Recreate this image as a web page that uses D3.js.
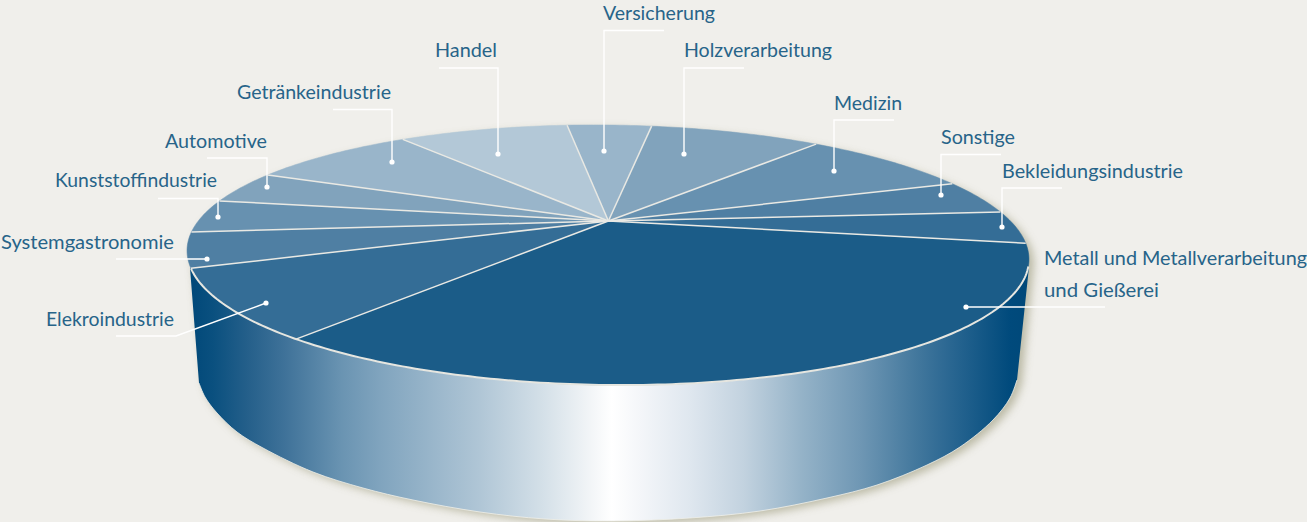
<!DOCTYPE html>
<html lang="de"><head><meta charset="utf-8">
<script src="https://cdn.jsdelivr.net/npm/d3@7"></script>
<style>html,body{margin:0;padding:0;background:#f0efeb}svg{display:block}
text{font-family:Lato,"Open Sans",sans-serif;font-weight:400;font-size:19.8px;fill:#276489}</style>
</head><body><svg id="c" width="1307" height="522"></svg>
<script>
// Data
const categories=["Metall und Metallverarbeitung und Gießerei","Elekroindustrie","Systemgastronomie","Kunststoffindustrie","Automotive","Getränkeindustrie","Handel","Versicherung","Holzverarbeitung","Medizin","Sonstige","Bekleidungsindustrie"];
const shares=[33.5,8.25,4.18,3.99,4.01,8.15,8.61,4.33,8.64,8.31,4.13,3.90];
const sliceColors=["#1b5c88","#346d96","#4f7fa3","#6791b0","#81a3bc","#99b5ca","#b3c8d7","#99b5ca","#81a3bc","#6791b0","#4f7fa3","#346d96"];
const labelLines=[["Metall und Metallverarbeitung","und Gießerei"],["Elekroindustrie"],["Systemgastronomie"],["Kunststoffindustrie"],["Automotive"],["Getränkeindustrie"],["Handel"],["Versicherung"],["Holzverarbeitung"],["Medizin"],["Sonstige"],["Bekleidungsindustrie"]];
// Layout of annotations (label start x, first baseline, fitted line widths, leader polyline ending in the dot)
const labelPos=[[1044,265],[46,326],[1,249],[55,187],[165,148],[237,99],[435,57],[603,20],[684,57],[834,110],[941,144],[1002,178]];
const labelWidths=[[263,115],[128,0],[173,0],[162,0],[102,0],[154,0],[62,0],[112,0],[148,0],[68,0],[74,0],[181,0]];
const leaders=[[[1105,307],[966,307]],[[116,336],[176,336],[266,303]],[[116,259],[207,259]],[[158,198.5],[218,198.5],[218,217]],[[207,158],[267,158],[267,187]],[[333,109.5],[392,109.5],[392,162]],[[439,68],[498,68],[498,154]],[[664,30.5],[604,30.5],[604,151]],[[744,68],[684,68],[684,154]],[[894,120],[834,120],[834,171]],[[1001,154.5],[941,154.5],[941,195]],[[1062,188],[1002,188],[1002,227]]];
// Outline of the cylinder's lower edge, left to right
const lowerEdge=[[199,383],[205,397],[217,413],[237,432],[263,448],[313,472],[363,488],[413,500],[480,512],[545,519],[612,521],[690,518],[760,511],[827,498],[877,485],[927,465],[960,447],[993,420],[1010,398],[1017,380]];
const sideStops=[[190,"#004879"],[213,"#0a507f"],[247,"#245f8a"],[285,"#3f7299"],[342,"#6a94b2"],[380,"#80a4be"],[480,"#b0c6d6"],[543,"#d4e0e8"],[590,"#f2f5f7"],[612,"#ffffff"],[640,"#f4f6f9"],[690,"#dfe7ef"],[744,"#c2d2df"],[801,"#95b3c8"],[860,"#6f97b4"],[916,"#43789d"],[943,"#2f6a94"],[1010,"#004a7c"],[1029,"#004879"]];

const W=1307,H=522,cx=608,cy=255,rx=421,ry=130,tilt=0.65,apexV=-34/130;
const svg=d3.select("#c");
svg.append("rect").attr("width",W).attr("height",H).attr("fill","#f0efeb");
const defs=svg.append("defs");
const grad=defs.append("linearGradient").attr("id","side").attr("gradientUnits","userSpaceOnUse").attr("x1",190).attr("x2",1029).attr("y1",0).attr("y2",0);
sideStops.forEach(s=>grad.append("stop").attr("offset",(s[0]-190)/839).attr("stop-color",s[1]));
const blur=defs.append("filter").attr("id","blur").attr("x","-5%").attr("y","-10%").attr("width","110%").attr("height","120%");
blur.append("feGaussianBlur").attr("stdDeviation",4.5);

const line=d3.line();
const edge=d3.line().curve(d3.curveCatmullRom)(lowerEdge);
const edgeTail=edge.replace(/^M[^C]*/,"");
const body=`M190,268 L199,383 ${edgeTail} L1029,267 Z`;
const sil=`M187,250 L199,383 ${edgeTail} L1029,262 A421,130 0.65 0 0 187,250 Z`;
svg.append("path").attr("d",sil).attr("transform","translate(5,3)").attr("fill","#aaa98f").attr("opacity",.75).attr("filter","url(#blur)");
svg.append("path").attr("d",body).attr("fill","url(#side)");
svg.append("path").attr("d",edge).attr("fill","none").attr("stroke","#f0f0ea").attr("stroke-width",.8);

const deg=Math.PI/180, start=97.7;
const pie=d3.pie().sort(null).value(d=>d).startAngle(start*deg).endAngle((start+360)*deg);
const arcs=pie(shares);
const color=d3.scaleOrdinal().domain(categories).range(sliceColors);
// ray from apex through the unit circle, projected to the ellipse
function rim(a){const dx=Math.sin(a),dy=-Math.cos(a);
  const b=apexV*dy,c=apexV*apexV-1,t=-b+Math.sqrt(b*b-c);
  return [rx*dx*t,ry*(apexV+dy*t)];}
const apex=[0,ry*apexV];
const disc=svg.append("g").attr("transform",`translate(${cx},${cy}) rotate(${tilt})`);
disc.selectAll("path.slice").data(arcs).join("path").attr("class","slice")
 .attr("fill",(d,i)=>color(categories[i])).attr("stroke",(d,i)=>color(categories[i])).attr("stroke-width",.5)
 .attr("d",d=>{const n=Math.max(2,Math.ceil((d.endAngle-d.startAngle)/deg));
   const pts=d3.range(n+1).map(k=>rim(d.startAngle+(d.endAngle-d.startAngle)*k/n));
   return line([apex,...pts])+"Z";});
// front rim
const rimPts=d3.range(3,173).map(k=>[rx*Math.cos(k*deg),ry*Math.sin(k*deg)]);
disc.append("path").attr("d",line(rimPts)).attr("fill","none").attr("stroke","#e6e6e0").attr("stroke-width",2);
// dividers
disc.selectAll("path.div").data(arcs).join("path").attr("class","div").attr("fill","none")
 .attr("stroke","#e9e9e4").attr("stroke-width",1.5).attr("d",d=>line([apex,rim(d.startAngle)]));
// leaders + dots
svg.selectAll("path.lead").data(leaders).join("path").attr("class","lead").attr("fill","none").attr("stroke","#fff").attr("stroke-width",1.4).attr("d",d=>line(d));
svg.selectAll("circle.dot").data(leaders).join("circle").attr("class","dot").attr("r",2.6).attr("fill","#fff").attr("cx",d=>d[d.length-1][0]).attr("cy",d=>d[d.length-1][1]);
// labels
labelLines.forEach((lines,i)=>{
  const t=svg.append("text").attr("class","lab").attr("x",labelPos[i][0]).attr("y",labelPos[i][1]);
  lines.forEach((s,j)=>t.append("tspan").attr("x",labelPos[i][0]).attr("dy",j?32:0)
    .attr("textLength",labelWidths[i][j]).attr("lengthAdjust","spacingAndGlyphs").text(s));
});
</script></body></html>
